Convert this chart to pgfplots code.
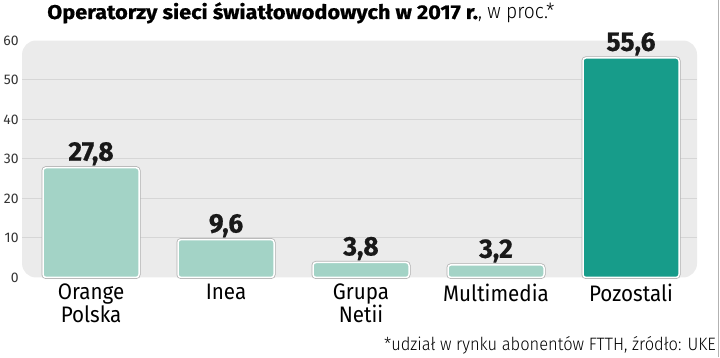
\documentclass[border=0pt]{standalone}
\usepackage{pgfplots}
\pgfplotsset{compat=1.18}
\usepackage{fontspec}
\setmainfont{Fira Sans}
\newfontfamily\headfont[FakeStretch=1.09, BoldFeatures={FakeBold=0.8}]{Fira Sans}
\newfontfamily\valfont[FakeStretch=0.98, BoldFeatures={FakeBold=0.6}]{Fira Sans}
\newfontfamily\labfont[FakeStretch=0.92]{Fira Sans}
\newfontfamily\lightfont[FakeStretch=0.92]{Fira Sans Light}
\definecolor{lightbar}{HTML}{A3D3C6}
\definecolor{darkbar}{HTML}{179C8A}
\definecolor{panel}{HTML}{EBEBEB}
\definecolor{gridc}{HTML}{D6D6D6}
\definecolor{ticktext}{HTML}{333333}
\begin{document}
\begin{tikzpicture}[x=1bp,y=1bp]
\draw[white, line width=0pt] (0,0) rectangle (720,357);
\begin{axis}[
  at={(22bp,80bp)}, anchor=south west,
  scale only axis, width=675bp, height=237bp,
  xmin=-0.511, xmax=4.489, ymin=0, ymax=60,
  axis line style={draw=none}, major tick length=0pt,
  ytick={0,10,...,60},
  xtick={0,...,4},
  xticklabels={{Orange\\Polska},Inea,{Grupa\\Netii},Multimedia,Pozostali},
  xticklabel style={align=center, font=\labfont\fontsize{22.5}{20}\selectfont, text=black, yshift=-3bp},
  yticklabel style={font=\fontsize{14}{14}\selectfont, text=ticktext},
  /pgf/number format/assume math mode=true,
  clip=false,
  ybar, bar width=96bp, bar shift=0pt,
  nodes near coords, point meta=explicit symbolic,
  nodes near coords style={font=\valfont\bfseries\fontsize{27}{27}\selectfont, text=black!90, anchor=south, inner sep=1.5bp},
]
\fill[panel, rounded corners=14bp] (axis cs:-0.511,0) rectangle (axis cs:4.489,60);
\draw[gridc, line width=1bp] (axis cs:-0.511,10) -- (axis cs:4.489,10);
\draw[gridc, line width=1bp] (axis cs:-0.511,20) -- (axis cs:4.489,20);
\draw[gridc, line width=1bp] (axis cs:-0.511,30) -- (axis cs:4.489,30);
\draw[gridc, line width=1bp] (axis cs:-0.511,40) -- (axis cs:4.489,40);
\draw[gridc, line width=1bp] (axis cs:-0.511,50) -- (axis cs:4.489,50);
\addplot[fill=lightbar, draw=white, line width=1.5bp, rounded corners=3bp,
  preaction={draw=gray!60, line width=3bp}]
  coordinates {(0,27.8) [27,8] (1,9.6) [9,6] (2,3.8) [3,8] (3,3.2) [3,2]};
\addplot[fill=darkbar, draw=white, line width=1.5bp, rounded corners=3bp,
  preaction={draw=gray!60, line width=3bp}]
  coordinates {(4,55.6) [55,6]};
\end{axis}
\node[anchor=base west, inner sep=0] at (47,338.5)
  {\headfont\bfseries\fontsize{20}{20}\selectfont Operatorzy sieci światłowodowych w 2017 r.\lightfont\mdseries\fontsize{21}{21}\selectfont, w proc.*};
\node[anchor=base east, inner sep=0] at (716,7)
  {\lightfont\fontsize{18}{18}\selectfont *udział w rynku abonentów FTTH, źródło: UKE};
\draw[gray!60, line width=1bp] (718.5,0) -- (718.5,357);
\end{tikzpicture}
\end{document}
